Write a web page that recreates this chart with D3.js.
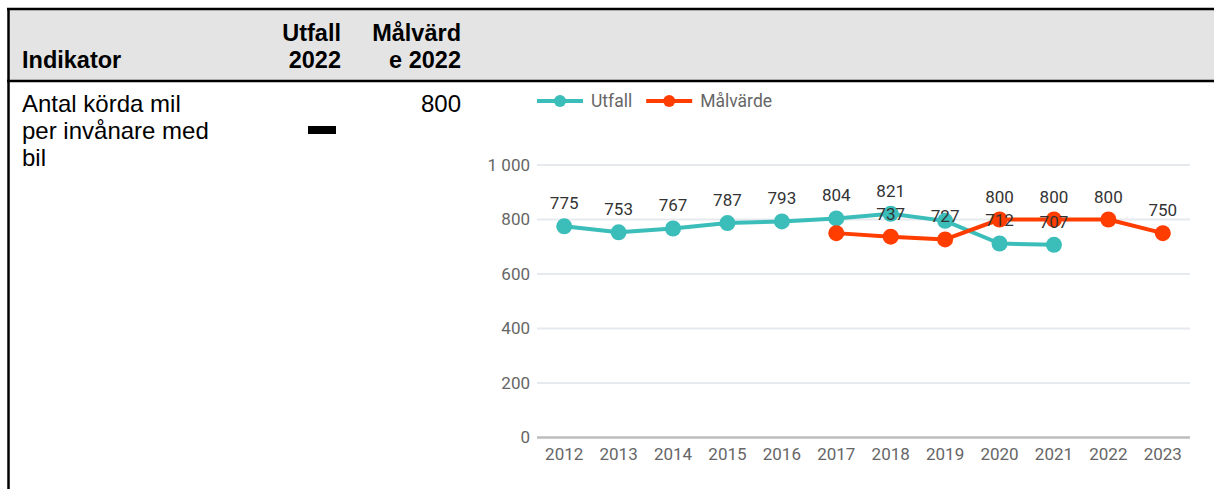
<!DOCTYPE html>
<html>
<head>
<meta charset="utf-8">
<script src="https://cdn.jsdelivr.net/npm/d3@7"></script>
<style>
  html, body { margin: 0; padding: 0; background: #fff; }
  svg { display: block; }
</style>
</head>
<body>
<svg id="chart" width="1214" height="489"></svg>
<script>
// Table content
const headerLines = [["Indikator"], ["Utfall", "2022"], ["Målvärd", "e 2022"]];
const indicatorLines = ["Antal körda mil", "per invånare med", "bil"];
const targetValue2022 = "800";

// Chart data
const years = ["2012", "2013", "2014", "2015", "2016", "2017", "2018", "2019", "2020", "2021", "2022", "2023"];
const utfall = [775, 753, 767, 787, 793, 804, 821, 795, 712, 707, null, null];
const malvarde = [null, null, null, null, null, 750, 737, 727, 800, 800, 800, 750];
const yTicks = [0, 200, 400, 600, 800, 1000];
// annotations suppressed where they collide with the other series
const hiddenUtfallLabels = ["2019"];
const hiddenMalvardeLabels = ["2017"];

const seriesColors = { Utfall: "#3bbdb9", "Målvärde": "#ff3d00" };

const svg = d3.select("#chart");

// ---------- table ----------
const tableFont = "'Liberation Sans', Arial, sans-serif";
svg.append("rect").attr("x", 9).attr("y", 9).attr("width", 1214 - 9).attr("height", 72)
  .attr("fill", "#e4e4e4");
svg.append("line").attr("x1", 7).attr("x2", 1214).attr("y1", 9).attr("y2", 9)
  .attr("stroke", "#000").attr("stroke-width", 2.5);
svg.append("line").attr("x1", 7).attr("x2", 1214).attr("y1", 81).attr("y2", 81)
  .attr("stroke", "#000").attr("stroke-width", 2.5);
svg.append("line").attr("x1", 8.5).attr("x2", 8.5).attr("y1", 8).attr("y2", 489)
  .attr("stroke", "#000").attr("stroke-width", 2.5);

const colAnchors = [
  { x: 22, anchor: "start" },
  { x: 341, anchor: "end" },
  { x: 461, anchor: "end" }
];
headerLines.forEach((lines, i) => {
  const n = lines.length;
  lines.forEach((t, j) => {
    svg.append("text")
      .attr("x", colAnchors[i].x)
      .attr("y", 68 - (n - 1 - j) * 27)
      .attr("text-anchor", colAnchors[i].anchor)
      .attr("font-family", tableFont).attr("font-weight", "bold")
      .attr("font-size", 23.5).attr("fill", "#000")
      .text(t);
  });
});
indicatorLines.forEach((t, j) => {
  svg.append("text").attr("x", 22).attr("y", 112 + j * 27)
    .attr("font-family", tableFont).attr("font-size", 24).attr("fill", "#000").text(t);
});
// missing outcome marker
svg.append("rect").attr("x", 308).attr("y", 126).attr("width", 28).attr("height", 8).attr("fill", "#000");
svg.append("text").attr("x", 461).attr("y", 112).attr("text-anchor", "end")
  .attr("font-family", tableFont).attr("font-size", 24).attr("fill", "#000").text(targetValue2022);

// ---------- chart ----------
const chartFont = "Roboto, sans-serif";
const plot = { left: 537, right: 1190, top: 165, bottom: 437.5 };

const x = d3.scaleBand().domain(years).range([plot.left, plot.right]);
const y = d3.scaleLinear().domain([0, 1000]).range([plot.bottom, plot.top]);
const cx = d => x(d) + x.bandwidth() / 2;

const sv = d3.formatLocale({ decimal: ",", thousands: "\u00a0", grouping: [3], currency: ["", " kr"] }).format(",");

// gridlines
svg.append("g").selectAll("line").data(yTicks.filter(t => t !== 0)).join("line")
  .attr("x1", plot.left).attr("x2", plot.right)
  .attr("y1", d => y(d)).attr("y2", d => y(d))
  .attr("stroke", "#e6e9ed").attr("stroke-width", 2);

// y axis labels
const yAxis = svg.append("g").attr("transform", `translate(${plot.left},0)`)
  .call(d3.axisLeft(y).tickValues(yTicks).tickFormat(sv).tickSize(0).tickPadding(7));
yAxis.select(".domain").remove();
yAxis.selectAll("text").attr("font-family", chartFont).attr("font-size", 17).attr("fill", "#666");

// baseline
svg.append("line").attr("x1", plot.left).attr("x2", plot.right)
  .attr("y1", y(0)).attr("y2", y(0)).attr("stroke", "#bdbdbd").attr("stroke-width", 2.5);

// x axis labels
const xAxis = svg.append("g").attr("transform", `translate(0,${plot.bottom})`)
  .call(d3.axisBottom(x).tickSize(0).tickPadding(10));
xAxis.select(".domain").remove();
xAxis.selectAll("text").attr("font-family", chartFont).attr("font-size", 17).attr("fill", "#666");

const series = [
  { name: "Utfall", values: utfall, hidden: hiddenUtfallLabels },
  { name: "Målvärde", values: malvarde, hidden: hiddenMalvardeLabels }
];

const line = d3.line().defined(d => d.v != null).x(d => cx(d.year)).y(d => y(d.v));

series.forEach(s => {
  const pts = years.map((yr, i) => ({ year: yr, v: s.values[i] }));
  const g = svg.append("g");
  g.append("path").datum(pts).attr("d", line)
    .attr("fill", "none").attr("stroke", seriesColors[s.name]).attr("stroke-width", 4)
    .attr("stroke-linejoin", "round");
  g.selectAll("circle").data(pts.filter(d => d.v != null)).join("circle")
    .attr("cx", d => cx(d.year)).attr("cy", d => y(d.v)).attr("r", 8)
    .attr("fill", seriesColors[s.name]);
  s.pts = pts;
});

// value annotations, drawn above the markers
series.forEach(s => {
  svg.append("g").selectAll("text")
    .data(s.pts.filter(d => d.v != null && !s.hidden.includes(d.year))).join("text")
    .attr("x", d => cx(d.year)).attr("y", d => y(d.v) - 17)
    .attr("text-anchor", "middle")
    .attr("font-family", chartFont).attr("font-size", 17).attr("fill", "#333")
    .text(d => d.v);
});

// legend
const legend = svg.append("g").attr("transform", "translate(537,101)");
let lx = 0;
series.forEach(s => {
  const item = legend.append("g").attr("transform", `translate(${lx},0)`);
  item.append("line").attr("x1", 0).attr("x2", 46).attr("y1", 0).attr("y2", 0)
    .attr("stroke", seriesColors[s.name]).attr("stroke-width", 4);
  item.append("circle").attr("cx", 23).attr("cy", 0).attr("r", 6).attr("fill", seriesColors[s.name]);
  const t = item.append("text").attr("x", 54).attr("y", 6)
    .attr("font-family", chartFont).attr("font-size", 17.5).attr("fill", "#666").text(s.name);
  lx += 54 + t.node().getComputedTextLength() + 14;
});
</script>
</body>
</html>
